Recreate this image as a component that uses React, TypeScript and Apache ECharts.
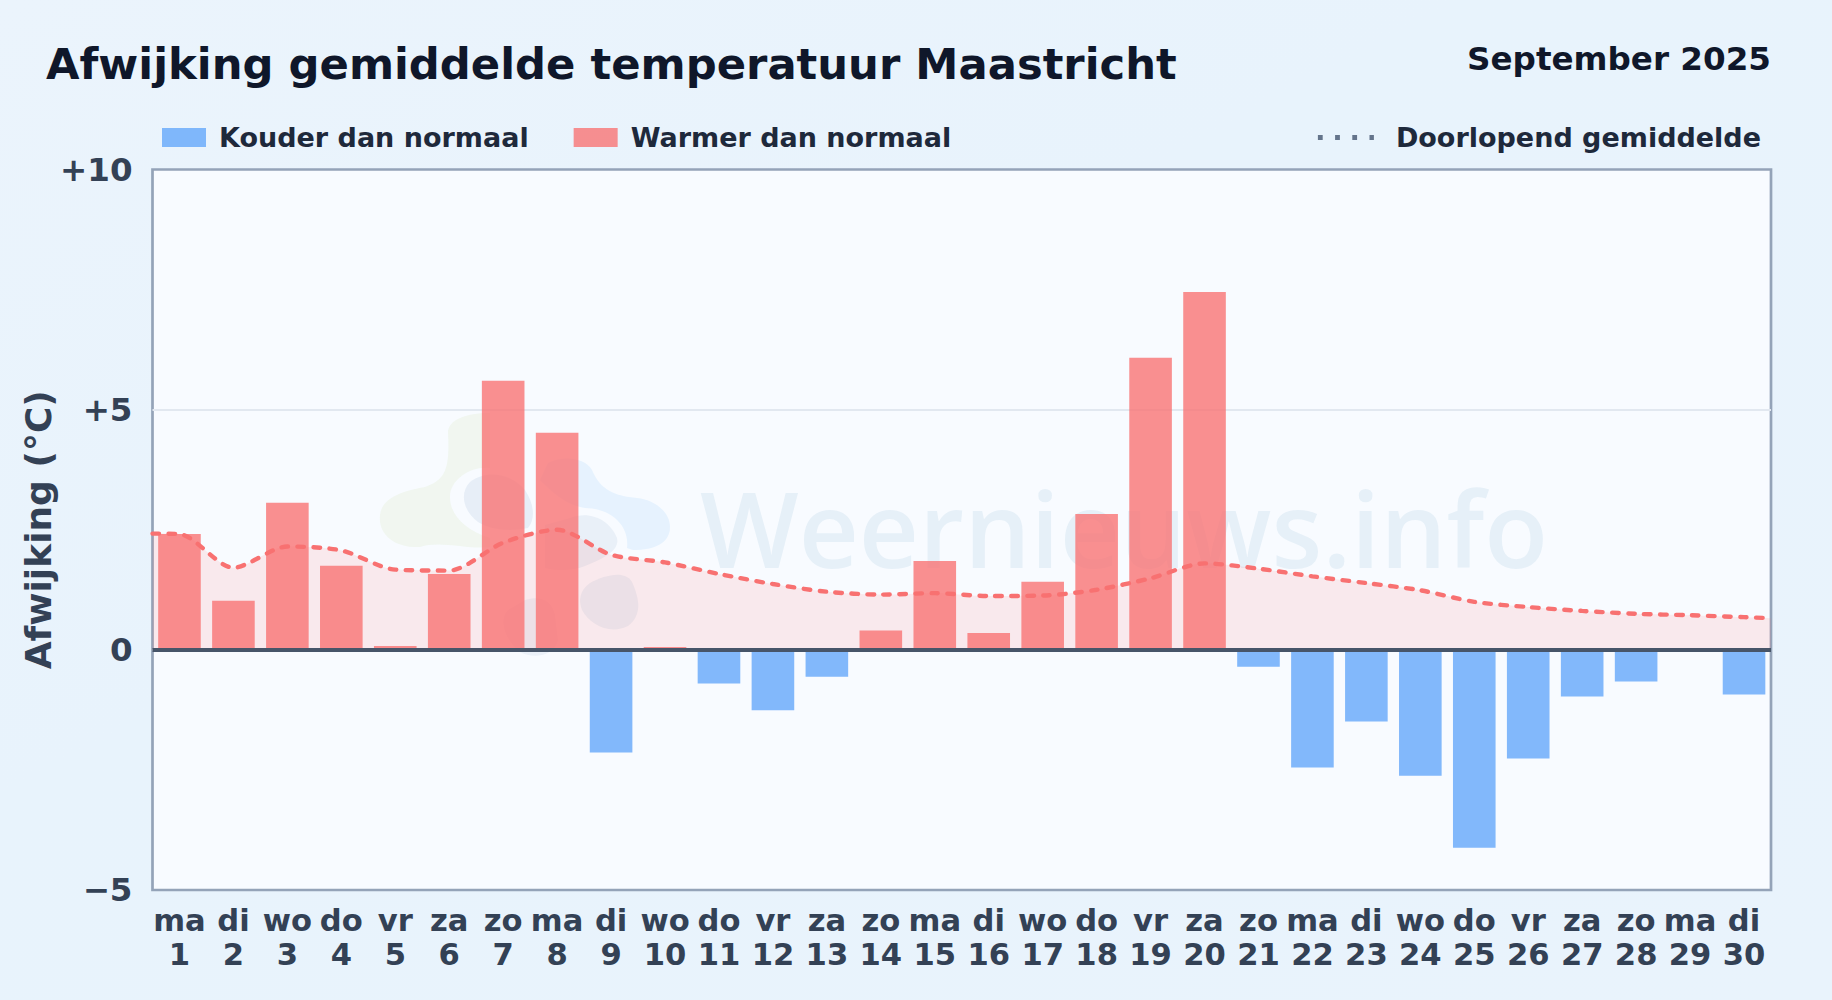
import React, { useEffect, useRef } from "react";
import * as echarts from "echarts";

const weekdays = ["ma","di","wo","do","vr","za","zo","ma","di","wo","do","vr","za","zo","ma","di","wo","do","vr","za","zo","ma","di","wo","do","vr","za","zo","ma","di"];
const days = [1,2,3,4,5,6,7,8,9,10,11,12,13,14,15,16,17,18,19,20,21,22,23,24,25,26,27,28,29,30];
const deviation = [2.41,1.02,3.06,1.75,0.08,1.58,5.6,4.52,-2.14,0.06,-0.7,-1.26,-0.56,0.4,1.85,0.35,1.42,2.83,6.08,7.45,-0.35,-2.45,-1.49,-2.62,-4.12,-2.26,-0.97,-0.66,0,-0.93];
const runningMean = [2.41,1.71,2.15,2.07,1.67,1.65,2.23,2.5,1.98,1.82,1.58,1.37,1.21,1.15,1.18,1.12,1.13,1.25,1.49,1.8,1.69,1.53,1.39,1.24,1.0,0.89,0.81,0.75,0.72,0.68];
const meanAtLeftEdge = 2.42;
const meanAtRightEdge = 0.66;
const TITLE = "Afwijking gemiddelde temperatuur Maastricht";
const PERIOD = "September 2025";
const FONT = "DejaVu Sans";

echarts.graphic.registerShape("wnGreen", echarts.graphic.extendPath("M448 433 C448 420 465 413 490 413 L490 468 C470 466 450 480 450 497 C450 515 465 530 490 538 L490 547 C470 550 440 540 420 547 C395 548 378 535 380 515 C382 495 410 490 425 487 C445 480 450 470 448 433 Z", {}));
echarts.graphic.registerShape("wnBlue", echarts.graphic.extendPath("M548 463 C565 455 585 458 592 470 C600 490 615 496 637 498 C655 500 670 512 670 527 C670 543 655 550 633 550 L627 548 C630 525 610 508 585 508 C565 505 550 490 540 480 Z", {}));
echarts.graphic.registerShape("wnDark1", echarts.graphic.extendPath("M470 482 C485 470 510 472 525 490 C535 505 535 520 528 528 C510 532 490 530 478 522 C462 510 460 492 470 482 Z", {}));
echarts.graphic.registerShape("wnDark2", echarts.graphic.extendPath("M570 518 C590 510 610 520 617 538 C620 550 605 558 585 566 C575 570 560 572 545 568 L545 525 Z", {}));
echarts.graphic.registerShape("wnDark3", echarts.graphic.extendPath("M590 583 C605 575 625 570 632 582 C640 600 642 615 628 626 C610 635 590 625 582 610 C578 600 580 590 590 583 Z", {}));
echarts.graphic.registerShape("wnDark4", echarts.graphic.extendPath("M525 600 C540 595 552 600 555 615 L558 640 C555 655 535 660 520 652 C505 640 498 620 508 610 Z", {}));

export default function App() {
  const ref = useRef<HTMLDivElement>(null);
  useEffect(() => {
    const chart = echarts.init(ref.current!, undefined, { renderer: "svg" });
    const cats = weekdays.map((w, i) => `${w}\n${days[i]}`);
    const meanPts: [number, number][] = [
      [0, meanAtLeftEdge],
      ...runningMean.map((v, i) => [i + 0.5, v] as [number, number]),
      [30, meanAtRightEdge],
    ];
    const axisText = { fontFamily: FONT, fontWeight: "bold" as const, color: "#334155" };
    chart.setOption({
      animation: false,
      backgroundColor: {
        type: "linear", x: 0, y: 0, x2: 1, y2: 1,
        colorStops: [{ offset: 0, color: "#ebf4fc" }, { offset: 0.4, color: "#e8f3fc" }, { offset: 1, color: "#e9f3fc" }],
      },
      textStyle: { fontFamily: FONT },
      title: [
        { text: TITLE, left: 46, top: 42.3, padding: 0, textStyle: { fontFamily: FONT, fontWeight: "bold", fontSize: 43.3, color: "#0f172a" } },
        { text: PERIOD, right: 61, top: 42, padding: 0, textStyle: { fontFamily: FONT, fontWeight: "bold", fontSize: 32.6, color: "#0f172a" } },
      ],
      legend: [
        {
          data: ["Kouder dan normaal", "Warmer dan normaal"],
          left: 157, top: 119, itemWidth: 44, itemHeight: 19, itemGap: 45, icon: "rect",
          textStyle: { fontFamily: FONT, fontWeight: "bold", fontSize: 27, color: "#1e293b", padding: [0, 0, 0, 8] },
        },
        {
          data: ["Doorlopend gemiddelde"],
          right: 66, top: 119, itemWidth: 56, itemHeight: 19,
          lineStyle: { color: "#64748b", width: 5, type: [4.8, 12.4], cap: "butt" },
          itemStyle: { opacity: 0 },
          textStyle: { fontFamily: FONT, fontWeight: "bold", fontSize: 27, color: "#1e293b", padding: [0, 0, 0, 17] },
        },
      ],
      grid: { left: 152.5, right: 61, top: 169.5, bottom: 110, backgroundColor: "#f8fbff", borderColor: "#94a3b8", borderWidth: 2.7, show: true, containLabel: false },
      xAxis: [
        {
          type: "category", data: cats, position: "bottom",
          axisLine: { show: false, onZero: false }, axisTick: { show: false }, splitLine: { show: false },
          axisLabel: { ...axisText, interval: 0, fontSize: 30.6, lineHeight: 33.5, margin: 14, hideOverlap: false },
        },
        { type: "value", min: 0, max: 30, show: false },
      ],
      yAxis: {
        type: "value", min: -5, max: 10, interval: 5,
        name: "Afwijking (°C)", nameLocation: "middle", nameGap: 96, nameRotate: 90, nameMoveOverlap: false,
        nameTextStyle: { ...axisText, fontSize: 36 },
        axisLine: { show: false }, axisTick: { show: false },
        splitLine: { show: true, showMinLine: false, showMaxLine: false, lineStyle: { color: "#e2e8f0", width: 2 } },
        axisLabel: {
          ...axisText, fontSize: 32.5, margin: 20,
          formatter: (v: number) => (v > 0 ? `+${v}` : v < 0 ? `\u2212${-v}` : "0"),
        },
      },
      series: [
        {
          name: "Kouder dan normaal", type: "bar", xAxisIndex: 0, barWidth: 42.6, barGap: "-100%", z: 3,
          itemStyle: { color: "rgba(96,165,250,0.78)" },
          data: deviation.map((v) => (v < 0 ? v : null)),
        },
        {
          name: "Warmer dan normaal", type: "bar", xAxisIndex: 0, barWidth: 42.6, barGap: "-100%", z: 3,
          itemStyle: { color: "rgba(248,113,113,0.78)" },
          data: deviation.map((v) => (v > 0 ? v : null)),
          markLine: {
            silent: true, symbol: "none", label: { show: false }, z: 6,
            lineStyle: { color: "#475569", width: 4, type: "solid" },
            data: [{ yAxis: 0 }],
          },
        },
        {
          name: "Doorlopend gemiddelde", type: "line", xAxisIndex: 1, smooth: 0.28, symbol: "none", z: 4,
          lineStyle: { color: "#f87171", width: 4.4, type: [6.5, 9.5], cap: "round" },
          itemStyle: { color: "#f87171" },
          areaStyle: { color: "rgba(254,113,113,0.125)", opacity: 1 },
          data: meanPts,
        },
      ],
      graphic: [
        { type: "wnGreen", z: 1, style: { fill: "rgba(190,220,140,0.13)" } },
        { type: "wnBlue", z: 1, style: { fill: "rgba(125,195,245,0.15)" } },
        { type: "wnDark1", z: 1, style: { fill: "rgba(70,110,170,0.09)" } },
        { type: "wnDark2", z: 1, style: { fill: "rgba(70,110,170,0.08)" } },
        { type: "wnDark3", z: 1, style: { fill: "rgba(70,110,170,0.08)" } },
        { type: "wnDark4", z: 1, style: { fill: "rgba(70,110,170,0.07)" } },
        { type: "text", z: 1, x: 1124, y: 527, style: { text: "Weernieuws.info", font: `600 104.5px "Open Sans"`, fill: "rgba(60,130,180,0.09)", textAlign: "center", textVerticalAlign: "middle" } },
      ],
    });
    return () => chart.dispose();
  }, []);
  return <div ref={ref} style={{ position: "fixed", left: 0, top: 0, width: 1832, height: 1000 }} />;
}
